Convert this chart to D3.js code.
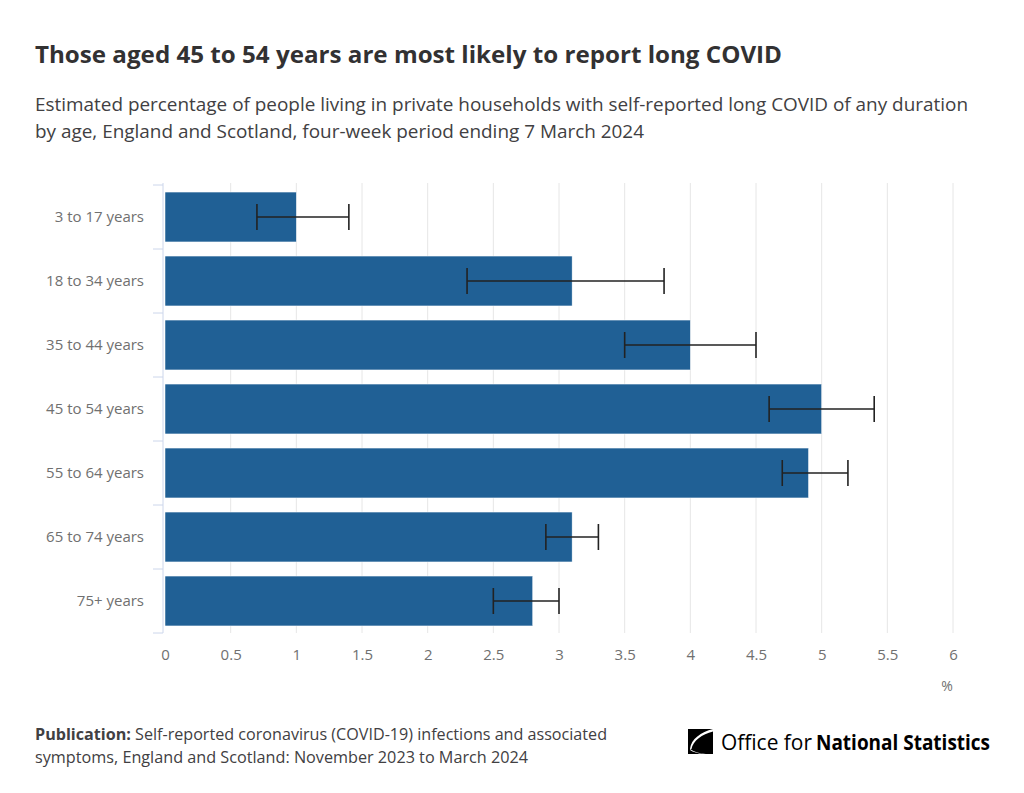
<!DOCTYPE html>
<html><head><meta charset="utf-8">
<script src="https://cdn.jsdelivr.net/npm/d3@7"></script>
<style>body{margin:0;background:#fff;font-family:"Open Sans",sans-serif;}</style>
</head><body>
<svg id="c" width="1024" height="793"></svg>
<script>
const categories = ["3 to 17 years","18 to 34 years","35 to 44 years","45 to 54 years","55 to 64 years","65 to 74 years","75+ years"];
const values = [1.0, 3.1, 4.0, 5.0, 4.9, 3.1, 2.8];
const lower = [0.7, 2.3, 3.5, 4.6, 4.7, 2.9, 2.5];
const upper = [1.4, 3.8, 4.5, 5.4, 5.2, 3.3, 3.0];
const xTicks = [0,0.5,1,1.5,2,2.5,3,3.5,4,4.5,5,5.5,6];

const svg = d3.select("#c");
const x = d3.scaleLinear().domain([0,6]).range([165,953]);
const y = d3.scaleBand().domain(categories).range([185,633]).paddingInner(0.22).paddingOuter(0.11);

function fit(sel, w){ const n=sel.node(); const L=n.getComputedTextLength(); if(L>0) sel.attr("textLength",w).attr("lengthAdjust","spacingAndGlyphs"); return sel; }

fit(svg.append("text").attr("x",35).attr("y",63).attr("font-size",23.5).attr("font-weight",700).attr("fill","#323132")
  .text("Those aged 45 to 54 years are most likely to report long COVID"), 747);
const sub = ["Estimated percentage of people living in private households with self-reported long COVID of any duration","by age, England and Scotland, four-week period ending 7 March 2024"];
const subW = [933, 609];
sub.forEach((s,i)=>fit(svg.append("text").attr("x",35).attr("y",111+i*27).attr("font-size",18.5).attr("fill","#414042").text(s), subW[i]));

// gridlines
svg.append("g").selectAll("line").data(xTicks.slice(1)).join("line")
  .attr("x1",d=>x(d)).attr("x2",d=>x(d)).attr("y1",183).attr("y2",633)
  .attr("stroke","#e6e6e6").attr("stroke-width",1);

// y axis
const yAxis = svg.append("g").attr("transform","translate(163,0)");
yAxis.append("line").attr("x1",0).attr("x2",0).attr("y1",183).attr("y2",633).attr("stroke","#ccd6eb");
const bounds = d3.range(categories.length+1).map(i=>185+i*(448/7));
yAxis.selectAll("line.t").data(bounds).join("line").attr("class","t")
  .attr("x1",-10).attr("x2",0).attr("y1",d=>d).attr("y2",d=>d).attr("stroke","#ccd6eb");
svg.append("g").selectAll("text").data(categories).join("text")
  .attr("x",144).attr("y",d=>y(d)+y.bandwidth()/2).attr("dy","0.35em").attr("text-anchor","end")
  .attr("font-size",15).attr("fill","#707070").text(d=>d);

// bars
svg.append("g").selectAll("rect").data(values).join("rect")
  .attr("x",x(0)).attr("y",(d,i)=>y(categories[i])).attr("width",d=>x(d)-x(0)).attr("height",y.bandwidth())
  .attr("fill","#206095").attr("stroke","#ffffff").attr("stroke-width",0.5);

// error bars
const eb = svg.append("g").attr("stroke","#222").attr("stroke-width",1.6);
categories.forEach((c,i)=>{
  const cy = y(c)+y.bandwidth()/2;
  eb.append("line").attr("x1",x(lower[i])).attr("x2",x(upper[i])).attr("y1",cy).attr("y2",cy);
  [lower[i],upper[i]].forEach(v=>eb.append("line").attr("x1",x(v)).attr("x2",x(v)).attr("y1",cy-13).attr("y2",cy+13));
});

// x axis labels
const xa = svg.append("g").attr("transform","translate(0,633)")
  .call(d3.axisBottom(x).tickValues(xTicks).tickSize(0).tickPadding(16).tickFormat(d3.format("")));
xa.select(".domain").remove();
xa.selectAll("text").attr("font-size",15).attr("fill","#707070").attr("font-family","Open Sans");
svg.append("text").attr("x",947).attr("y",691).attr("text-anchor","middle").attr("font-size",14).attr("fill","#707070").text("%");

// footer
const f1 = svg.append("text").attr("x",35).attr("y",740).attr("font-size",16).attr("fill","#414042");
f1.append("tspan").attr("font-weight",700).text("Publication:");
f1.append("tspan").text(" Self-reported coronavirus (COVID-19) infections and associated");
fit(f1, 572);
fit(svg.append("text").attr("x",35).attr("y",763).attr("font-size",16).attr("fill","#414042")
  .text("symptoms, England and Scotland: November 2023 to March 2024"), 493);

// logo
const lg = svg.append("g").attr("transform","translate(688,729)");
lg.append("rect").attr("width",25).attr("height",25).attr("fill","#000");
lg.append("path").attr("d","M25,0 C13,3 3,10 2,20 L3.5,20 C5,12 14,5 25,2.5 Z").attr("fill","#fff");
lg.append("path").attr("d","M2,20 C6,23 12,24.5 18,25 L15,25 C10,24.5 5,23 2,21 Z").attr("fill","#fff");
fit(svg.append("text").attr("x",721).attr("y",750).attr("font-size",22).attr("fill","#000").text("Office for"), 91);
fit(svg.append("text").attr("x",816).attr("y",750).attr("font-size",22).attr("font-weight",700).attr("fill","#000").text("National Statistics"), 174);
</script>
</body></html>
